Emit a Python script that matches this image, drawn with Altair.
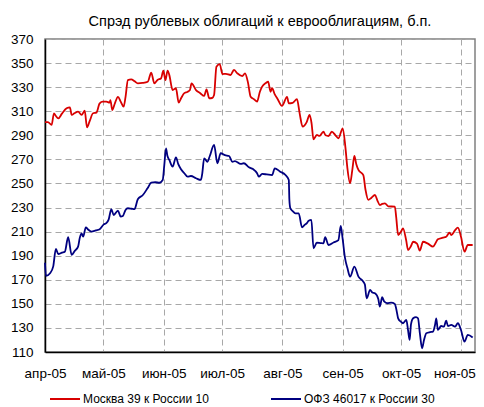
import altair as alt
import pandas as pd

TITLE = "Спрэд рублевых облигаций к еврооблигациям, б.п."
SERIES = ["Москва 39 к России 10", "ОФЗ 46017 к России 30"]
COLORS = ["#D80000", "#000080"]
MONTHS_RU = ["янв", "фев", "мар", "апр", "май", "июн", "июл", "авг", "сен", "окт", "ноя", "дек"]
Y_TICKS = list(range(110, 371, 20))

# days since 1 Apr 2005
red_days = [0.0, 1.5, 3.4, 4.6, 5.6, 6.8, 8.7, 11.1, 12.8, 13.7, 15.3, 17.0, 18.8, 20.4, 21.6, 23.0,
            24.7, 26.4, 28.1, 29.7, 31.5, 33.2, 33.6, 34.6, 35.8, 37.5, 38.9, 40.4, 41.4, 42.6, 44.3,
            46.0, 47.7, 50.1, 52.8, 54.6, 56.2, 57.8, 59.7, 60.8, 61.9, 63.0, 63.9, 65.6, 67.3, 68.7,
            70.0, 71.6, 73.1, 74.5, 75.3, 77.6, 79.8, 81.8, 83.0, 84.4, 85.9, 86.9, 88.1, 89.8, 91.2,
            93.0, 95.4, 97.1, 98.8, 101.4, 102.8, 104.3, 105.7, 107.4, 109.0, 110.4, 111.6, 113.5,
            114.7, 115.9, 116.7, 118.1, 119.6, 121.8, 124.4, 125.3, 127.3, 129.5, 130.9, 132.4, 134.5,
            136.0, 137.0, 138.0, 139.7, 141.1, 143.1, 144.2, 145.7, 147.4, 149.3, 150.8, 153.0, 154.4,
            155.4, 156.8, 158.0, 159.0, 160.0, 161.1, 163.6, 164.7, 166.2, 167.7, 169.6, 170.8, 172.1,
            173.3, 174.7, 176.4, 179.8, 180.5, 181.5, 183.0, 184.0, 185.6, 186.6, 188.1, 189.2, 191.2,
            192.6, 194.3, 196.8, 199.4, 200.9, 201.9, 204.5, 206.2, 207.9, 208.8, 210.7, 212.2, 213.8,
            215.6, 217.3, 219.8]
red_vals = [301, 301, 298.6, 308.3, 306, 304, 308, 312.4, 313.2, 306.9, 308.5, 309.6, 306.9, 310.4,
            296.6, 302, 308.3, 308.8, 316.6, 318, 318, 317.1, 319.3, 311, 316, 322, 318, 313.8, 322,
            335.9, 336.5, 335, 333.2, 333.5, 334.5, 342, 333.2, 336, 337.4, 343.8, 335.9, 343.8, 340,
            327.6, 329.1, 317.1, 321, 325, 326, 327.6, 333.2, 327.6, 325, 322.7, 328.2, 320.8, 321,
            323.5, 347, 349.2, 340.9, 341, 340.1, 344.3, 341.5, 339.2, 341.5, 334, 322, 320, 318, 326,
            330.4, 333.5, 334.5, 326.2, 329.1, 324, 320, 314.4, 322, 316.6, 317, 320, 308, 297.2, 301,
            306.9, 300, 286.7, 290.3, 289.5, 293, 290, 289.4, 293, 290, 287.5, 295.8, 280, 263, 250.2,
            262, 272.8, 266, 261.2, 257, 245, 236.3, 238, 240.4, 236, 232.1, 233, 233.5, 231, 230.7,
            222, 207.2, 210, 212.7, 203, 194.7, 198, 201.6, 200, 194.2, 201.6, 200, 197.5, 201, 203.6,
            205, 205.8, 209.1, 207.2, 211, 213.3, 205.8, 193.3, 198.9, 198.9]

blue_days = [0.0, 0.5, 2.6, 4.2, 5.6, 6.8, 8.7, 10.2, 11.9, 13.7, 15.3, 17.0, 17.9, 18.8, 19.6, 21.0,
             22.0, 23.9, 26.1, 28.1, 30.2, 31.5, 32.7, 34.1, 35.3, 37.5, 38.9, 40.0, 41.4, 42.6, 44.5,
             46.0, 47.7, 50.3, 52.7, 54.6, 56.7, 58.8, 60.5, 61.3, 62.2, 62.9, 63.9, 65.6, 67.3, 68.5,
             69.9, 71.6, 73.3, 75.0, 77.6, 80.1, 80.8, 81.8, 83.5, 84.7, 86.9, 88.6, 90.3, 92.5, 94.6,
             96.3, 97.6, 100.6, 102.2, 104.8, 106.9, 109.0, 109.9, 111.6, 114.0, 116.7, 118.1, 120.7,
             123.6, 125.3, 125.6, 126.1, 127.3, 128.7, 130.4, 132.1, 133.4, 134.6, 135.5, 136.9, 138.0,
             139.7, 141.6, 143.1, 144.0, 145.7, 148.3, 150.8, 152.0, 152.9, 154.2, 155.4, 156.8, 159.0,
             161.1, 163.6, 164.4, 165.3, 167.1, 168.2, 169.6, 171.3, 172.1, 173.3, 174.3, 176.0, 177.9,
             179.8, 180.5, 181.5, 183.0, 184.0, 185.7, 186.6, 187.4, 188.1, 189.2, 190.7, 191.7, 192.7,
             193.8, 194.8, 196.0, 197.9, 199.4, 200.4, 201.1, 201.9, 203.6, 205.0, 206.2, 207.1, 208.8,
             210.7, 212.2, 213.8, 215.6, 217.3, 219.8]
blue_vals = [184.2, 173.2, 175.4, 180.9, 195.6, 191.4, 192.5, 193.3, 205.3, 190.6, 194, 197.5, 205,
             208.6, 205.8, 213.6, 212, 210, 211, 212, 216, 217, 220, 228.6, 223.8, 227.4, 222.5, 223,
             228, 229.4, 229, 228.6, 236.9, 240.4, 246, 250.6, 251, 250.6, 252.9, 265, 279.2, 273,
             269.5, 264, 271.7, 266, 261.8, 258.5, 255.6, 256.2, 254.3, 252.9, 258, 270.9, 268, 272.8,
             282, 266.8, 275.1, 273.5, 272.8, 268, 268.5, 266.2, 266.8, 263.4, 262, 258.5, 255.6, 257.9,
             257.5, 257, 262.6, 260, 257, 252.9, 236.3, 229.4, 227, 225.2, 225.2, 213.6, 215.5, 217,
             219, 219.7, 196.2, 200.8, 200.5, 200.3, 205.3, 198.9, 201, 203, 214.7, 205, 187.9, 180,
             172.6, 180.9, 172.6, 168.4, 166, 154.6, 161.5, 159.5, 158.8, 154, 147.7, 155.5, 152, 150.5,
             151, 149.9, 146, 138, 135, 133.9, 136.6, 128, 120, 133, 138, 139, 138, 125, 113.1, 120,
             125.6, 126.5, 126.9, 132, 138, 128.3, 131.6, 131, 136, 131.6, 132.5, 131, 133.9, 128.3,
             118.6, 124.2, 122]

start = pd.Timestamp("2005-04-01")
df = pd.concat([
    pd.DataFrame({"date": start + pd.to_timedelta(red_days, unit="D"), "value": red_vals,
                  "series": SERIES[0]}),
    pd.DataFrame({"date": start + pd.to_timedelta(blue_days, unit="D"), "value": blue_vals,
                  "series": SERIES[1]}),
])

FONT = "Liberation Sans"
month_values = [alt.DateTime(year=2005, month=m, date=1) for m in range(4, 12)]
labels_js = "[" + ",".join("'" + m + "'" for m in MONTHS_RU) + "]"

chart = alt.Chart(df).mark_line(strokeWidth=1.8, interpolate="monotone").encode(
    x=alt.X("date:T",
            scale=alt.Scale(domain=[alt.DateTime(year=2005, month=4, date=1),
                                    alt.DateTime(year=2005, month=11, date=8)], nice=False),
            axis=alt.Axis(values=month_values, labelExpr=labels_js + "[month(datum.value)] + '-05'",
                          title=None, ticks=False, labelPadding=14, labelFontSize=13.5,
                          labelOverlap=False, labelBound=False, labelFlush=False,
                          labelOffset={"condition": {"test": "month(datum.value) == 10", "value": -7},
                                       "value": 0},
                          grid=True, domainColor="#000000", domainWidth=1.5)),
    y=alt.Y("value:Q", scale=alt.Scale(domain=[110, 370], nice=False, zero=False),
            axis=alt.Axis(values=Y_TICKS, title=None, ticks=False, labelPadding=12,
                          labelFontSize=13.5, labelOverlap=False,
                          grid=True, domainColor="#000000", domainWidth=1.5)),
    color=alt.Color("series:N", title=None,
                    scale=alt.Scale(domain=SERIES, range=COLORS),
                    legend=alt.Legend(orient="none", legendX=4, legendY=344, direction="horizontal",
                                      symbolType="stroke", symbolSize=900, symbolStrokeWidth=2,
                                      labelFontSize=12, labelFont=FONT, labelOffset=2,
                                      columnPadding=58)),
).properties(
    width=430, height=313,
    title=alt.TitleParams(TITLE, fontSize=14.5, font=FONT, fontWeight="normal", offset=3,
                          color="#000000"),
    autosize=alt.AutoSizeParams(type="none"),
    padding={"left": 37, "top": 31, "right": 1, "bottom": 55},
).configure_axis(
    labelFont=FONT, labelColor="#000000", gridColor="#a8a8a8", gridDash=[6, 4], gridWidth=1,
).configure_view(
    stroke="#808080", strokeWidth=1.5,
)

chart.save("out.html", embed_options={"renderer": "svg", "actions": False})
